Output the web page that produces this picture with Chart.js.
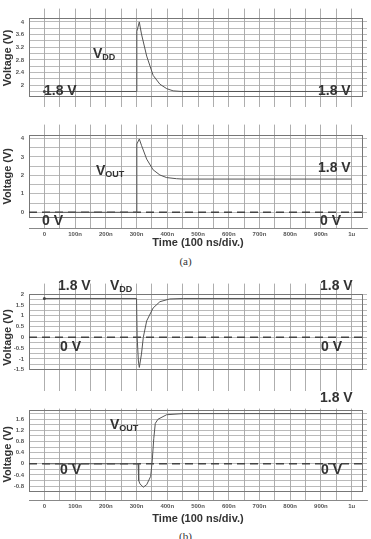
<!DOCTYPE html>
<html>
<head>
<meta charset="utf-8">
<script src="https://cdn.jsdelivr.net/npm/chart.js@4.4.0/dist/chart.umd.min.js"></script>
<style>
  body { margin:0; background:#fff; }
  #wrap { position:relative; width:371px; height:539px; overflow:hidden; font-family:"Liberation Sans", Arial, sans-serif; }
  canvas { position:absolute; left:0; }
  .lbl { position:absolute; font-weight:bold; font-size:14px; line-height:1; color:#333; white-space:nowrap; }
  .lbl sub { font-size:9px; vertical-align:-2px; }
  .cap { position:absolute; font-family:"Liberation Serif", serif; font-size:11px; color:#333; width:371px; text-align:center; }
</style>
</head>
<body>
<div id="wrap">
  <canvas id="c1" width="371" height="116" style="top:0px"></canvas>
  <canvas id="c2" width="371" height="134" style="top:116px"></canvas>
  <canvas id="c3" width="371" height="125" style="top:275px"></canvas>
  <canvas id="c4" width="371" height="126" style="top:400px"></canvas>

  <div class="lbl" style="left:93px;top:46px">V<sub>DD</sub></div>
  <div class="lbl" style="left:44px;top:83px">1.8 V</div>
  <div class="lbl" style="left:318px;top:83px">1.8 V</div>

  <div class="lbl" style="left:96px;top:163px">V<sub>OUT</sub></div>
  <div class="lbl" style="left:318px;top:160px">1.8 V</div>
  <div class="lbl" style="left:42px;top:213px">0 V</div>
  <div class="lbl" style="left:320px;top:213px">0 V</div>
  <div class="cap" style="top:255px">(a)</div>

  <div class="lbl" style="left:58px;top:278px">1.8 V</div>
  <div class="lbl" style="left:110px;top:278px">V<sub>DD</sub></div>
  <div class="lbl" style="left:320px;top:278px">1.8 V</div>
  <div class="lbl" style="left:60px;top:339px">0 V</div>
  <div class="lbl" style="left:321px;top:339px">0 V</div>

  <div class="lbl" style="left:320px;top:390px">1.8 V</div>
  <div class="lbl" style="left:110px;top:417px">V<sub>OUT</sub></div>
  <div class="lbl" style="left:60px;top:462px">0 V</div>
  <div class="lbl" style="left:321px;top:462px">0 V</div>
  <div class="cap" style="top:530px">(b)</div>
</div>
<script>
// time axis (ns)
const xGrid = [0,50,100,150,200,250,300,350,400,450,500,550,600,650,700,750,800,850,900,950,1000];
const xTickValues = [0,100,200,300,400,500,600,700,800,900,1000];
const xTickLabels = ['0','100n','200n','300n','400n','500n','600n','700n','800n','900n','1u'];
const zeroX = [-50, 1050];
const zeroY = [0, 0];

// (a) VDD
const tVddA = [0, 300, 301, 309, 316, 333, 354, 376, 398, 419, 447, 1000];
const vVddA = [1.8, 1.8, 3.7, 4.0, 3.62, 2.92, 2.31, 2.03, 1.89, 1.82, 1.8, 1.8];
// (a) VOUT
const tOutA = [0, 300, 301, 309, 316, 333, 354, 376, 398, 430, 450, 1000];
const vOutA = [0, 0, 3.7, 3.97, 3.63, 2.88, 2.3, 2.02, 1.88, 1.82, 1.8, 1.8];
// (b) VDD
const tVddB = [0, 300, 302, 306, 309, 316, 322, 333, 354, 376, 408, 452, 1000];
const vVddB = [1.8, 1.8, 0, -1.1, -1.4, -0.78, 0, 0.76, 1.36, 1.65, 1.78, 1.8, 1.8];
// (b) VOUT
const tOutB = [0, 305, 307, 311, 322, 333, 346, 351, 356, 361, 370, 398, 452, 1000];
const vOutB = [0, 0, -0.6, -0.72, -0.84, -0.75, -0.45, 0.1, 0.9, 1.45, 1.6, 1.76, 1.8, 1.8];

// y grid lines and labels per panel
const yGrid1 = [1.8,2,2.2,2.4,2.6,2.8,3,3.2,3.4,3.6,3.8,4];
const yLab1 = [2,2.4,2.8,3.2,3.6,4];
const yGrid2 = [0,0.5,1,1.5,2,2.5,3,3.5,4];
const yLab2 = [0,1,2,3,4];
const yGrid3 = [-1.5,-1.25,-1,-0.75,-0.5,-0.25,0,0.25,0.5,0.75,1,1.25,1.5,1.75,2];
const yLab3 = [-1.5,-1,-0.5,0,0.5,1,1.5,2];
const yGrid4 = [-0.8,-0.6,-0.4,-0.2,0,0.2,0.4,0.6,0.8,1,1.2,1.4,1.6,1.8];
const yLab4 = [-0.8,-0.4,0,0.4,0.8,1.2,1.6];

const toXY = (xs, ys) => xs.map((x, i) => ({x: x, y: ys[i]}));

// frame around the plot box, placed through the scales
const framePlugin = {
  id: 'frame',
  beforeDatasetsDraw(chart, args, opts) {
    const {ctx, scales: {x, y}} = chart;
    const l = x.getPixelForValue(opts.left), r = x.getPixelForValue(opts.right);
    const t = y.getPixelForValue(opts.top), b = y.getPixelForValue(opts.bottom);
    ctx.save();
    ctx.strokeStyle = '#777';
    ctx.lineWidth = 1;
    ctx.strokeRect(Math.round(l) + 0.5, Math.round(t) + 0.5, Math.round(r - l), Math.round(b - t));
    ctx.restore();
  }
};

function panel(id, opt) {
  const sets = [{
    data: toXY(opt.tx, opt.vy),
    borderColor: '#555',
    borderWidth: 1,
    pointRadius: c => (opt.dot && c.dataIndex === 0) ? 1.5 : 0,
    pointBackgroundColor: '#444',
    pointBorderWidth: 0,
    tension: 0
  }];
  if (opt.zero) {
    sets.push({
      data: toXY(zeroX, zeroY),
      borderColor: '#444',
      borderWidth: 1.6,
      borderDash: [8, 5],
      pointRadius: 0
    });
  }
  new Chart(document.getElementById(id), {
    type: 'line',
    data: { datasets: sets },
    plugins: [framePlugin],
    options: {
      responsive: false,
      animation: false,
      layout: { padding: { left: 0, right: 4, top: 0, bottom: 0 } },
      plugins: {
        legend: { display: false },
        tooltip: { enabled: false },
        frame: opt.box
      },
      scales: {
        x: {
          type: 'linear',
          min: -50,
          max: 1050,
          afterBuildTicks: s => { s.ticks = xGrid.map(v => ({value: v})); },
          afterFit: s => { s.height = opt.xAxis ? opt.xHeight : 0; },
          grid: { color: '#999', lineWidth: 0.8, drawTicks: false },
          border: { display: !!opt.xAxis, color: '#888' },
          ticks: {
            display: !!opt.xAxis,
            autoSkip: false,
            maxRotation: 0,
            padding: 3,
            color: '#555',
            font: { family: 'Liberation Sans', size: 6, weight: 'bold' },
            callback: v => {
              const k = xTickValues.indexOf(v);
              return k >= 0 ? xTickLabels[k] : '';
            }
          },
          title: {
            display: !!opt.xAxis,
            text: 'Time (100 ns/div.)',
            color: '#333',
            padding: { top: 0, bottom: 0 },
            font: { family: 'Liberation Sans', size: 11, weight: 'bold' }
          }
        },
        y: {
          min: opt.ymin,
          max: opt.ymax,
          afterBuildTicks: s => { s.ticks = opt.grid.map(v => ({value: v})); },
          afterFit: s => { s.width = 29; },
          grid: { color: '#a8a8a8', lineWidth: 0.8, drawTicks: false },
          border: { display: false },
          ticks: {
            autoSkip: false,
            padding: 5,
            color: '#555',
            font: { family: 'Liberation Sans', size: 6, weight: 'bold' },
            callback: v => opt.labels.includes(v) ? String(v) : ''
          },
          title: {
            display: true,
            text: 'Voltage (V)',
            color: '#333',
            padding: { top: 1, bottom: 0 },
            font: { family: 'Liberation Sans', size: 11, weight: 'bold' }
          }
        }
      }
    }
  });
}

panel('c1', { tx: tVddA, vy: vVddA, dot: true, ymin: 1.296, ymax: 4.423,
  grid: yGrid1, labels: yLab1, box: { left: -50, right: 1035, top: 4.12, bottom: 1.65 } });
panel('c2', { tx: tOutA, vy: vOutA, zero: true, ymin: -0.85, ymax: 4.75,
  grid: yGrid2, labels: yLab2, box: { left: -50, right: 1035, top: 4.17, bottom: -0.25 },
  xAxis: true, xHeight: 22 });
panel('c3', { tx: tVddB, vy: vVddB, dot: true, zero: true, ymin: -2.51, ymax: 2.49,
  grid: yGrid3, labels: yLab3, box: { left: -50, right: 1035, top: 2, bottom: -1.5 } });
panel('c4', { tx: tOutB, vy: vOutB, zero: true, ymin: -1.3, ymax: 1.98,
  grid: yGrid4, labels: yLab4, box: { left: -50, right: 1035, top: 1.92, bottom: -0.97 },
  xAxis: true, xHeight: 26 });
</script>
</body>
</html>
